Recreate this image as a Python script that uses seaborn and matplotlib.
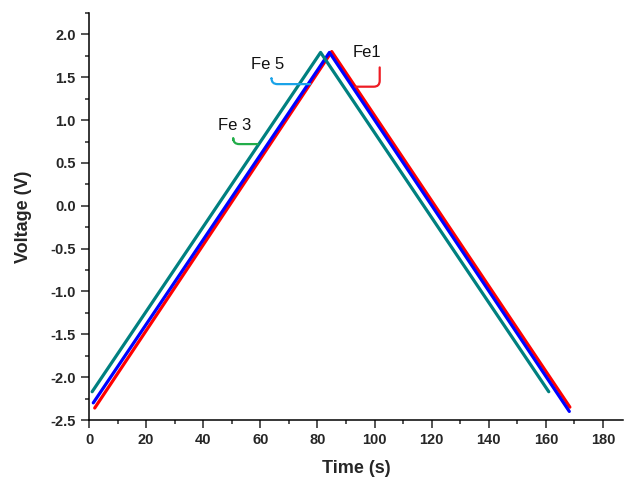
import matplotlib
matplotlib.use("Agg")
import matplotlib.pyplot as plt
import seaborn as sns
import pandas as pd
from matplotlib.ticker import MultipleLocator

sns.set_style("ticks")
plt.rcParams['font.family'] = ['Liberation Sans', 'DejaVu Sans']

# Data (time in s, voltage in V)
series_names = ["Fe1", "Fe 5", "Fe 3"]
fe1_time = [2.0, 85.0, 168.4]
fe1_volt = [-2.36, 1.80, -2.35]
fe5_time = [1.5, 84.2, 168.2]
fe5_volt = [-2.30, 1.79, -2.40]
fe3_time = [1.1, 81.1, 161.0]
fe3_volt = [-2.17, 1.79, -2.17]
colors = {"Fe1": "#ff0000", "Fe 5": "#0000ff", "Fe 3": "#008080"}

x_ticks = [0, 20, 40, 60, 80, 100, 120, 140, 160, 180]
y_ticks = [-2.5, -2.0, -1.5, -1.0, -0.5, 0.0, 0.5, 1.0, 1.5, 2.0]

df = pd.concat([
    pd.DataFrame({"Time": fe1_time, "Voltage": fe1_volt, "Sample": "Fe1"}),
    pd.DataFrame({"Time": fe5_time, "Voltage": fe5_volt, "Sample": "Fe 5"}),
    pd.DataFrame({"Time": fe3_time, "Voltage": fe3_volt, "Sample": "Fe 3"}),
], ignore_index=True)

fig = plt.figure(figsize=(6.25, 4.78), dpi=100)
ax = fig.add_axes([89/625, 1 - 420/478, (623 - 89)/625, (420 - 13)/478])

for name in series_names:
    sns.lineplot(data=df[df["Sample"] == name], x="Time", y="Voltage",
                 color=colors[name], linewidth=2.3, ax=ax, sort=False,
                 estimator=None, legend=False)

ax.set_xlim(0, 187)
ax.set_ylim(-2.5, 2.25)
ax.set_xticks(x_ticks)
ax.set_yticks(y_ticks)
ax.set_yticklabels([f"{v:.1f}" for v in y_ticks])
ax.xaxis.set_minor_locator(MultipleLocator(10))
ax.yaxis.set_minor_locator(MultipleLocator(0.25))
ax.tick_params(which="major", direction="out", length=5.5, width=1.1, labelsize=10.5, pad=4)
ax.tick_params(which="minor", direction="out", length=3, width=1.1)
for lab in ax.get_xticklabels() + ax.get_yticklabels():
    lab.set_fontweight("bold")
for s in ["top", "right"]:
    ax.spines[s].set_visible(False)
for s in ["left", "bottom"]:
    ax.spines[s].set_linewidth(1.1)
    ax.spines[s].set_color("black")

ax.set_xlabel("Time (s)", fontsize=13, fontweight="bold", labelpad=9)
ax.set_ylabel("Voltage (V)", fontsize=13, fontweight="bold", labelpad=13)

# Annotations with hooked leader lines
labels = [
    ("Fe1", (97.5, 1.79), (101.8, 1.615), (93.3, 1.39), "#ee1c24", 90),
    ("Fe 5", (62.5, 1.65), (63.9, 1.49), (77.5, 1.42), "#1aa3e8", 90),
    ("Fe 3", (50.9, 0.94), (50.5, 0.77), (59.1, 0.72), "#22ad4a", 90),
]
for text, tpos, a, b, col, angA in labels:
    ax.text(tpos[0], tpos[1], text, fontsize=12, ha="center", va="center", color="#111111")
    ax.annotate("", xy=b, xytext=a,
                arrowprops=dict(arrowstyle="-", color=col, lw=1.6,
                                shrinkA=0, shrinkB=0,
                                connectionstyle=f"angle,angleA={angA},angleB=0,rad=6"))

fig.savefig("out.png", dpi=100)
